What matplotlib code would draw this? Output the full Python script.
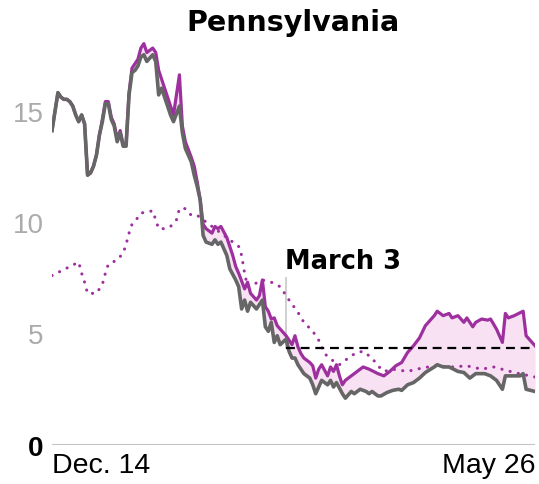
import matplotlib
matplotlib.use("Agg")
import matplotlib.pyplot as plt
import numpy as np

# days since Dec. 14
grey_days = [0, 2, 3, 4, 5, 6, 7, 8, 9, 10, 11, 12, 13, 14, 15, 16, 17, 18, 19, 20,
             21, 22, 23, 24, 25, 26, 27, 28, 29, 30, 31, 32, 34, 35, 36, 37, 38, 39, 40, 41,
             43, 44, 45, 47, 48, 49, 50, 51, 52, 54, 55, 56, 57, 58, 59, 60, 62, 63, 64, 65,
             66, 67, 69, 71, 72, 73, 74, 75, 76, 77, 79, 80, 81, 82, 83, 84, 85, 87, 88, 89,
             90, 91, 93, 94, 95, 96, 98, 99, 101, 102, 103, 104, 106, 107, 108, 110, 111, 113, 115, 117,
             118, 120, 122, 124, 126, 129, 130, 132, 134, 137, 139, 141, 143, 146, 148, 150, 152, 153, 155, 158,
             159, 160, 163]
grey_vals = [14.1, 15.8, 15.6, 15.5, 15.5, 15.4, 15.2, 14.8, 14.5, 14.8, 14.4, 12.1, 12.2, 12.5, 13.0, 13.9, 14.5, 15.3, 15.3, 14.6,
             14.3, 13.6, 14.0, 13.4, 13.4, 15.7, 16.7, 16.8, 17.0, 17.4, 17.5, 17.2, 17.5, 17.2, 15.7, 16.0, 15.6, 15.2, 14.8, 14.5,
             15.2, 14.0, 13.3, 12.7, 12.1, 11.6, 11.0, 9.4, 9.1, 9.0, 9.2, 9.0, 9.1, 8.8, 8.5, 7.9, 7.4, 7.1, 6.1, 6.5,
             6.0, 6.4, 6.1, 6.5, 5.3, 5.1, 5.5, 4.6, 4.9, 4.5, 4.75, 4.2, 3.9, 3.9, 3.6, 3.4, 3.2, 3.0, 2.7, 2.3,
             2.6, 2.9, 2.7, 2.9, 2.6, 2.8, 2.3, 2.1, 2.4, 2.3, 2.4, 2.5, 2.4, 2.3, 2.4, 2.2, 2.2, 2.35, 2.45, 2.5,
             2.45, 2.7, 2.8, 3.0, 3.25, 3.5, 3.6, 3.5, 3.5, 3.3, 3.25, 3.0, 3.2, 3.2, 3.1, 2.9, 2.5, 3.1, 3.1, 3.1,
             3.2, 2.5, 2.4]

purple_days = [0, 2, 3, 4, 5, 6, 7, 8, 9, 10, 11, 12, 13, 14, 15, 16, 17, 18, 19, 20,
               21, 22, 23, 24, 25, 26, 27, 28, 29, 30, 31, 32, 34, 35, 36, 37, 38, 39, 40, 41,
               43, 44, 45, 47, 48, 49, 50, 51, 52, 54, 55, 56, 57, 59, 60, 61, 62, 63, 65, 66,
               67, 69, 70, 71, 72, 73, 74, 75, 76, 77, 79, 80, 81, 82, 83, 84, 85, 87, 88, 89,
               90, 91, 93, 94, 95, 96, 97, 98, 99, 101, 103, 105, 107, 110, 112, 114, 116, 118, 120, 122,
               124, 126, 129, 130, 132, 134, 135, 137, 139, 140, 142, 143, 145, 147, 148, 150, 152, 153, 154, 156,
               159, 160, 161, 163]
purple_vals = [14.1, 15.8, 15.6, 15.5, 15.5, 15.4, 15.2, 14.8, 14.5, 14.8, 14.4, 12.1, 12.2, 12.5, 13.0, 13.9, 14.6, 15.4, 15.4, 14.7,
               14.4, 13.7, 14.1, 13.5, 13.5, 15.8, 16.9, 17.1, 17.3, 17.8, 18.0, 17.6, 17.8, 17.6, 16.8, 16.4, 16.0, 15.6, 15.2, 14.8,
               16.6, 14.3, 13.6, 12.9, 12.5, 11.8, 11.0, 9.9, 9.7, 9.5, 9.8, 9.7, 9.8, 9.3, 8.9, 8.5, 8.0, 7.7, 7.0, 7.3,
               6.8, 6.5, 6.7, 7.4, 6.2, 6.0, 5.65, 5.7, 5.35, 5.2, 4.9, 4.7, 4.5, 4.9, 4.4, 4.1, 3.9, 3.7, 3.55, 3.0,
               3.4, 3.6, 3.1, 3.5, 3.3, 3.6, 3.1, 2.7, 2.9, 3.1, 3.3, 3.5, 3.4, 3.2, 3.1, 3.3, 3.55, 3.7, 4.15, 4.45,
               4.8, 5.35, 5.8, 6.0, 5.8, 5.9, 5.7, 5.8, 5.5, 5.7, 5.3, 5.5, 5.65, 5.6, 5.65, 5.2, 4.6, 5.9, 5.7, 5.8,
               6.0, 4.9, 4.75, 4.45]

dotted_days = [0, 3, 6, 9, 10, 11, 12, 15, 17, 18, 19, 22, 24, 25, 26, 27, 29, 30, 34, 35,
               36, 38, 40, 42, 43, 45, 47, 49, 52, 56, 60, 63, 64, 65, 66, 68, 71, 74, 77, 80,
               83, 85, 88, 90, 92, 94, 97, 101, 103, 105, 108, 110, 112, 115, 120, 123, 129, 135, 140, 145,
               149, 156, 163]
dotted_vals = [7.6, 7.8, 8.0, 8.2, 7.7, 7.3, 6.8, 6.8, 7.2, 7.7, 8.1, 8.3, 8.6, 9.0, 9.5, 9.9, 10.2, 10.4, 10.5, 10.1,
               9.7, 9.7, 9.8, 10.1, 10.6, 10.6, 10.3, 10.3, 10.0, 9.6, 9.2, 8.9, 8.5, 7.7, 7.1, 7.2, 7.4, 7.3, 7.1, 6.5,
               5.95, 5.5, 5.1, 4.7, 4.1, 3.85, 3.6, 4.0, 4.15, 4.2, 3.9, 3.55, 3.3, 3.4, 3.3, 3.4, 3.55, 3.5, 3.55, 3.4,
               3.5, 3.25, 3.05]

target = 4.35
march3 = 79
last_day = 163
ytick_vals = [0, 5, 10, 15]
ytick_labels = ['0', '5', '10', '15']
xtick_labels = ['Dec. 14', 'May 26']

purple = '#9e2f9e'
grey = '#666666'

fig = plt.figure(figsize=(5.39, 4.85), dpi=100)
ax = fig.add_axes([52 / 539, 39 / 485, 483 / 539, 18.5 * 22.3 / 485])

# shade the gap between the two solid lines
common = np.arange(0, last_day + 1)
g_i = np.interp(common, grey_days, grey_vals)
p_i = np.interp(common, purple_days, purple_vals)
ax.fill_between(common, g_i, p_i, where=p_i >= g_i, color='#f7e1f3', lw=0, zorder=1)

ax.plot(dotted_days, dotted_vals, color=purple, lw=2.2, linestyle=(0, (0.05, 2.7)),
        dash_capstyle='round', zorder=2)
ax.plot(purple_days, purple_vals, color=purple, lw=2.3, solid_joinstyle='round', zorder=3)
ax.plot(grey_days, grey_vals, color=grey, lw=2.6, solid_joinstyle='round', zorder=4)

ax.plot([march3, last_day], [target, target], color='black', lw=1.6, dashes=(4, 2.6), zorder=5)
ax.plot([march3, march3], [target, 7.5], color='#cccccc', lw=1.3, zorder=1.5)
ax.text(march3 - 0.3, 7.95, 'March 3', fontsize=18.5, fontweight='bold',
        family='DejaVu Sans', ha='left', va='baseline')

ax.axhline(0, color='#c4c4c4', lw=1.5, zorder=0)

ax.set_xlim(0, last_day)
ax.set_ylim(0, 18.5)
for s in ax.spines.values():
    s.set_visible(False)

ax.set_yticks(ytick_vals)
ax.set_yticklabels(ytick_labels, family='Liberation Sans', fontsize=20)
ax.tick_params(axis='y', length=0, pad=6)
for lab in ax.get_yticklabels():
    if lab.get_text() == '0':
        lab.set_color('black')
        lab.set_fontweight('bold')
    else:
        lab.set_color('#ababab')

ax.set_xticks([0, last_day])
ax.set_xticklabels(xtick_labels, family='Liberation Sans', fontsize=20.5)
ax.tick_params(axis='x', length=0, pad=5)
xl = ax.get_xticklabels()
xl[0].set_ha('left')
xl[1].set_ha('right')

fig.text(293 / 539, 1 - 31 / 485, 'Pennsylvania', fontsize=20.5, fontweight='bold',
         family='DejaVu Sans', ha='center', va='baseline')

fig.savefig('out.png', dpi=100)
